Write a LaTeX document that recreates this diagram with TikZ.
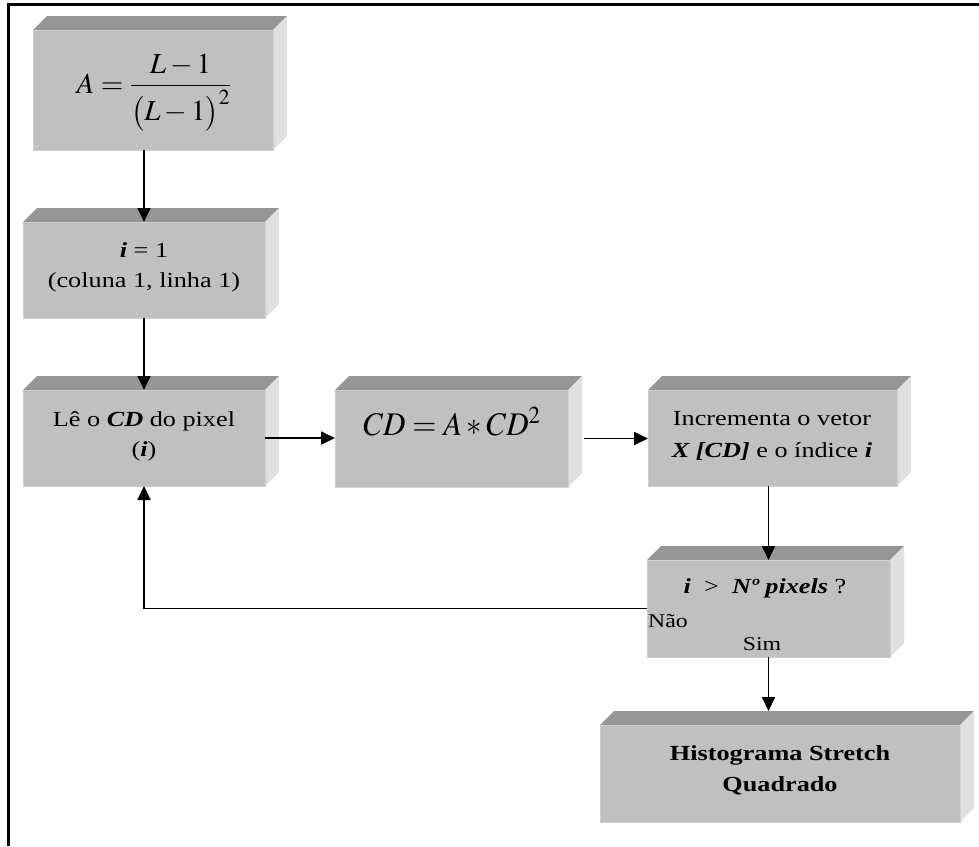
\documentclass[tikz,border=0pt]{standalone}
\usepackage{mathptmx}
\usepackage[no-math]{fontspec}
\setmainfont{Liberation Serif}[FakeStretch=1.22]
\usetikzlibrary{arrows.meta,calc}
\definecolor{frontc}{HTML}{C0C0C0}
\definecolor{topc}{HTML}{969696}
\definecolor{sidec}{HTML}{E0E0E0}
\definecolor{edgec}{HTML}{D0D0D0}
\newcommand\tdbox[5]{%
  \fill[topc] (#2,#3) -- ({#2+14},{#3-14}) -- ({#4+14},{#3-14}) -- (#4,#3) -- cycle;
  \fill[sidec] (#4,#3) -- ({#4+14},{#3-14}) -- ({#4+14},{#5-14}) -- (#4,#5) -- cycle;
  \node[frontbox, minimum width={(#4-#2)*1pt}, minimum height={(#5-#3)*1pt}] (#1) at ({(#2+#4)/2},{(#3+#5)/2}) {};
}
\tikzset{
  frontbox/.style={rectangle, fill=frontc, draw=edgec, line width=0.8pt, inner sep=0pt, outer sep=0pt},
  txt/.style={font=\fontsize{21.5}{26}\selectfont, inner sep=0pt, anchor=base},
  small/.style={font=\fontsize{19.5}{24}\selectfont, inner sep=0pt, anchor=base},
  arr/.style={-{Triangle[length=14pt,width=13pt]}, line width=1.8pt},
  frame/.style={line width=2.4pt}
}
\begin{document}
\begin{tikzpicture}[x=1pt,y=-1pt]
\useasboundingbox (0,0) rectangle (979,846);
\draw[frame] (8.5,846) -- (8.5,4.5) -- (979,4.5);
% boxes
\tdbox{b1}{33}{30}{273}{150}
\tdbox{b2}{23}{222}{265}{318}
\tdbox{b3}{23}{390}{265}{486}
\tdbox{b4}{335}{390}{568}{487}
\tdbox{b5}{648}{390}{897}{486}
\tdbox{d}{647}{560}{890}{657}
\tdbox{h}{600}{725}{960}{822}
% texts
\node[inner sep=0pt, anchor=base, font=\fontsize{29}{34}\selectfont] (t1) at (154,93)
  {$\displaystyle A=\frac{L-1}{\bigl(L-1\bigr)^{2}}$};
\node[txt] (t2a) at (144,257) {\textbf{\textit{i}} = 1};
\node[txt] (t2b) at (144,287) {(coluna 1, linha 1)};
\node[txt] (t3a) at (144,426) {Lê o \textbf{\textit{CD}} do pixel};
\node[txt] (t3b) at (144,456) {(\textbf{\textit{i}})};
\node[inner sep=0pt, anchor=base, font=\fontsize{33}{38}\selectfont] (t4) at (452,435)
  {\scalebox{0.94}[1]{$CD=A*CD^{2}$}};
\node[txt] (t5a) at (772,425) {Incrementa o vetor};
\node[txt] (t5b) at (772,457) {\textbf{\textit{X [CD]}} e o índice \textbf{\textit{i}}};
\node[txt] (t6) at (765,593) {\textbf{\textit{i}}\ \ >\ \ \textbf{\textit{Nº pixels}} ?};
\node[small, anchor=base west] (nao) at (648,627) {Não};
\node[small] (sim) at (762,650) {Sim};
\node[txt, font=\fontsize{21.5}{26}\selectfont\bfseries] (t7a) at (780,760) {Histograma Stretch};
\node[txt, font=\fontsize{21.5}{26}\selectfont\bfseries] (t7b) at (780,791) {Quadrado};
% connectors
\draw[arr] (b1.south -| b2.north) -- (b2.north);
\draw[arr] (b2.south) -- (b3.north);
\draw[arr] (b3.east) -- (b4.west |- b3.east);
\draw[arr] ($(b4.east)+(16,0)$) -- (b5.west |- b4.east);
\draw[arr] (b5.south -| d.north) -- (d.north);
\draw[arr] (d.south) -- ($(h.north -| d.south)+(0,-14)$);
\draw[arr] (d.west) -| (b3.south);
\end{tikzpicture}
\end{document}
